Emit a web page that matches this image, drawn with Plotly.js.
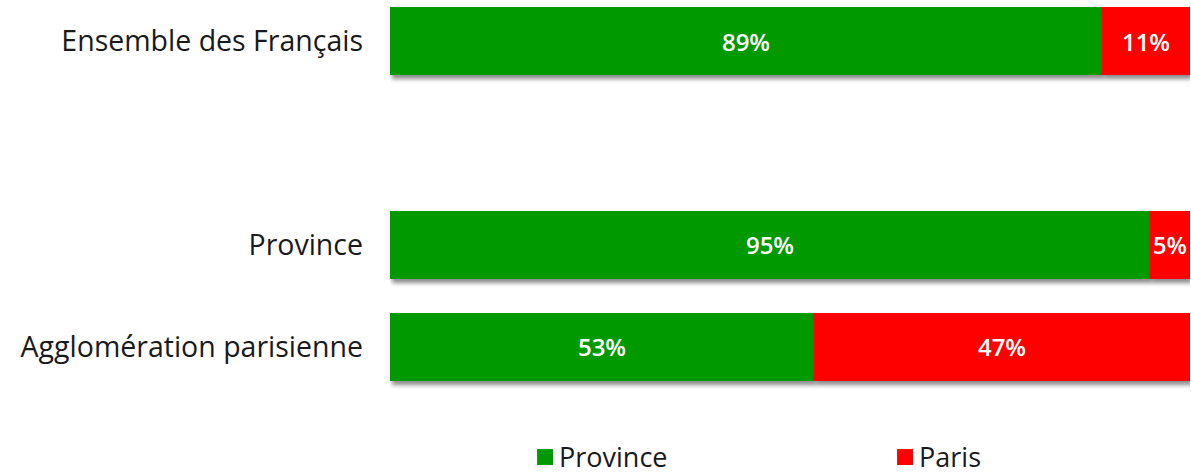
<!DOCTYPE html>
<html>
<head>
<meta charset="utf-8">
<script src="https://cdn.plot.ly/plotly-3.0.1.min.js"></script>
<style>
html,body{margin:0;padding:0;background:#fff;}
#chart{width:1191px;height:475px;}
.barlayer .point path{filter:drop-shadow(2px 4px 2px rgba(0,0,0,0.45));}
.legendpoints path{transform:translate(26px,7px) scale(1.33);}
.legend .legendtext{transform:translateY(6px);}
</style>
</head>
<body>
<div id="chart"></div>
<script>
const categories = ["Ensemble des Français", "", "Province", "Agglomération parisienne"];
const positions = [0, 1, 2, 3];
const provinceValues = [89, null, 95, 53];
const parisValues = [11, null, 5, 47];
const seriesNames = ["Province", "Paris"];
const seriesColors = ["#009900", "#ff0000"];

function labels(vals){ return vals.map(v => v == null ? "" : v + "%"); }

const barFont = {color:"#ffffff", size:24, family:"Open Sans", weight:600};

const traces = [
  {type:"bar", orientation:"h", name:seriesNames[0], y:positions, x:provinceValues,
   width:0.667, marker:{color:seriesColors[0]}, text:labels(provinceValues),
   textposition:"inside", insidetextanchor:"middle", textangle:0,
   textfont:barFont, hoverinfo:"skip", cliponaxis:false},
  {type:"bar", orientation:"h", name:seriesNames[1], y:positions, x:parisValues,
   width:0.667, marker:{color:seriesColors[1]}, text:labels(parisValues),
   textposition:"inside", insidetextanchor:"middle", textangle:0,
   textfont:barFont, hoverinfo:"skip", cliponaxis:false}
];

const layout = {
  width:1191, height:475,
  margin:{l:390, r:1, t:0, b:65},
  barmode:"stack",
  paper_bgcolor:"#ffffff", plot_bgcolor:"#ffffff",
  font:{family:"Open Sans", color:"#1a1a1a"},
  showlegend:true,
  xaxis:{range:[0,100], visible:false, fixedrange:true},
  yaxis:{range:[3.618,-0.402], tickvals:positions, ticktext:categories,
         showgrid:false, zeroline:false, showline:false, ticks:"",
         ticklabelstandoff:26, tickfont:{size:28.5, color:"#1a1a1a"}},
  legend:{orientation:"h", traceorder:"normal", xref:"container", x:0.4358, xanchor:"left",
          yref:"container", y:0, yanchor:"bottom",
          entrywidth:315, entrywidthmode:"pixels",
          font:{size:27, color:"#1a1a1a"}, itemclick:false, itemdoubleclick:false}
};

Plotly.newPlot("chart", traces, layout, {displayModeBar:false, staticPlot:true});
</script>
</body>
</html>
